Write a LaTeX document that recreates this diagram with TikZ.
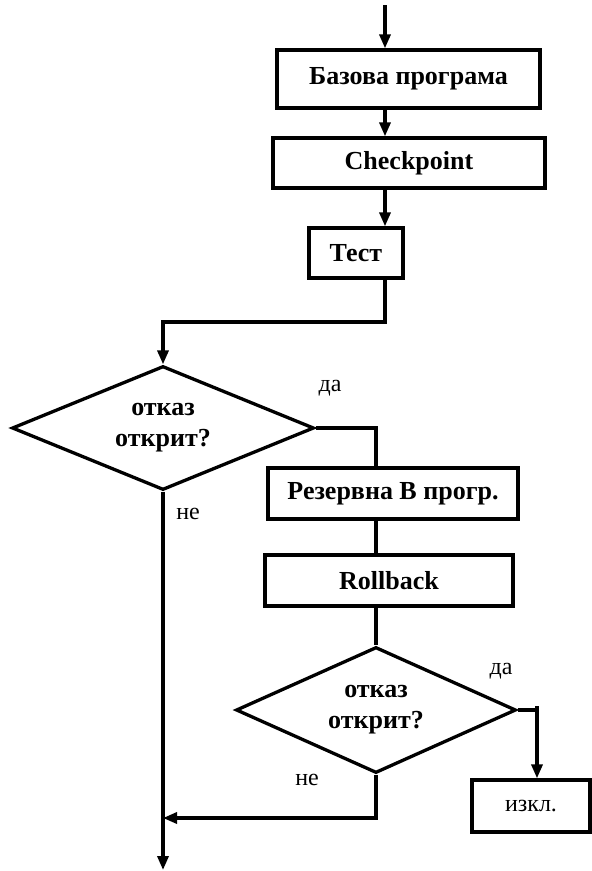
\documentclass[tikz,border=0pt]{standalone}
\usepackage{fontspec}
\setmainfont{Liberation Serif}
\usepackage{tikz}
\usetikzlibrary{arrows.meta, calc, shapes.geometric}
\tikzset{
    block/.style ={rectangle, draw, line width=3.3pt, inner sep=0pt,
                   font=\fontsize{26}{31}\selectfont\bfseries},
    decision/.style ={diamond, draw, line width=3.3pt, inner sep=0pt, align=center,
                   shape aspect=2.4, font=\fontsize{26}{31}\selectfont\bfseries},
    lbl/.style = {inner sep=0pt, font=\fontsize{24}{28}\selectfont}
    }

\begin{document}
\begin{tikzpicture}[
      x = 1pt, y = -1pt, % pixel grid of the page
      -{Triangle[length=14pt, width=11pt]}, % arrow head style
      line width = 3.3pt % line style
    ]
    \useasboundingbox (0,0) rectangle (592,871);

    \node[block, minimum width=263pt, minimum height=58pt] (base) at (408.5,79) {Базова програма};
    \node[block, minimum width=272pt, minimum height=50pt] (check) at (409,163) {Checkpoint};
    \node[block, minimum width=94pt, minimum height=50pt] (test) at (356,253) {Тест};
    \node[decision, minimum width=302pt, minimum height=124pt] (dec1) at (163,428) {отказ\\открит?};
    \node[block, minimum width=250pt, minimum height=51pt] (reserve) at (393,493.5) {Резервна В прогр.};
    \node[block, minimum width=248pt, minimum height=51pt] (rollback) at (389,580.5) {Rollback};
    \node[decision, minimum width=280pt, minimum height=126pt] (dec2) at (376,710) {отказ\\открит?};
    \node[block, font=\fontsize{24}{28}\selectfont, minimum width=118pt, minimum height=52pt] (exit) at (531,806) {изкл.};

    \node[lbl] (yes1) at (330,388) {да};
    \node[lbl] (no1) at (188,514) {не};
    \node[lbl] (yes2) at (501,671) {да};
    \node[lbl] (no2) at (307,780) {не};

    \coordinate (start) at (385,5);
    \coordinate (bend) at (385,322);
    \coordinate (tick) at (537,706);
    \coordinate (join) at (163,818);
    \coordinate (finish) at (163,870);

    \draw (start) -- (start |- base.north);
    \draw (base.south -| start) -- (check.north -| start);
    \draw (check.south -| start) -- (test.north -| start);
    \draw (test.south -| bend) -- (bend) -| (dec1.north);

    \draw[-] (dec1.east) -| (reserve.north -| dec2.north);
    \draw[-] (reserve.south -| dec2.north) -- (rollback.north -| dec2.north);
    \draw[-] (rollback.south -| dec2.north) -- (dec2.north);

    \draw[-] (dec2.east) -- (dec2.east -| tick);
    \draw (tick) -- (tick |- exit.north);
    \draw (dec2.south) |- (join);
    \draw (dec1.south) -- (finish);
\end{tikzpicture}
\end{document}
